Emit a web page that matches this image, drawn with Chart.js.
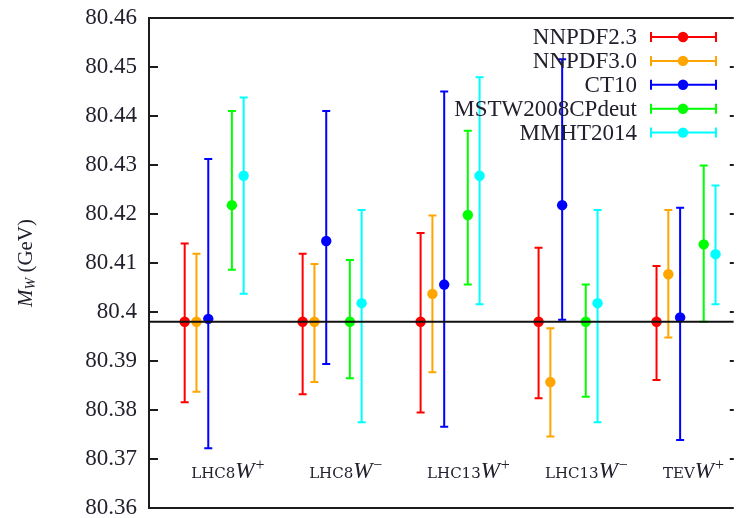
<!DOCTYPE html>
<html>
<head>
<meta charset="utf-8">
<script src="https://cdn.jsdelivr.net/npm/chart.js@4"></script>
<style>
  body { margin: 0; background: #fff; }
  #wrap { width: 739px; height: 518px; }
</style>
</head>
<body>
<div id="wrap"><canvas id="mwChart"></canvas></div>
<script>
// processes, one group of points per process
const processes = ["LHC8", "LHC8", "LHC13", "LHC13", "TEV"];
const charges = ["+", "\u2212", "+", "\u2212", "+"];
const groupX = [0, 1, 2, 3, 4];

// fitted W mass and its uncertainty band per PDF set
const nnpdf23Mw = [80.398, 80.398, 80.398, 80.398, 80.398];
const nnpdf23Lo = [80.3816, 80.3832, 80.3795, 80.3824, 80.3861];
const nnpdf23Hi = [80.4140, 80.4119, 80.4161, 80.4131, 80.4094];

const nnpdf30Mw = [80.398, 80.398, 80.4037, 80.3857, 80.4077];
const nnpdf30Lo = [80.3837, 80.3857, 80.3877, 80.3746, 80.3948];
const nnpdf30Hi = [80.4119, 80.4098, 80.4197, 80.3967, 80.4208];

const ct10Mw = [80.3986, 80.4145, 80.4056, 80.4218, 80.3989];
const ct10Lo = [80.3722, 80.3894, 80.3766, 80.3984, 80.3739];
const ct10Hi = [80.4312, 80.4410, 80.4450, 80.4516, 80.4213];

const mstwMw = [80.4218, 80.398, 80.4198, 80.398, 80.4138];
const mstwLo = [80.4086, 80.3865, 80.4056, 80.3827, 80.398];
const mstwHi = [80.4410, 80.4106, 80.4370, 80.4056, 80.4299];

const mmhtMw = [80.4278, 80.4018, 80.4278, 80.4018, 80.4118];
const mmhtLo = [80.4037, 80.3775, 80.4016, 80.3775, 80.4016];
const mmhtHi = [80.4438, 80.4208, 80.4479, 80.4208, 80.4258];

const mwInput = 80.398;
const yTicks = [80.36, 80.37, 80.38, 80.39, 80.40, 80.41, 80.42, 80.43, 80.44, 80.45, 80.46];

const X_MIN = -0.3025, X_MAX = 4.655;
const LABEL_Y = 80.3661;
const SERIF = "'Liberation Serif', 'DejaVu Serif', serif";
const TEXT = "#23202e";

function series(label, color, shift, mw, lo, hi) {
    return {
        label: label,
        data: groupX.map((g, i) => ({ x: g + shift, y: mw[i], lo: lo[i], hi: hi[i] })),
        backgroundColor: color,
        borderColor: color,
        pointRadius: 5.2,
        pointHoverRadius: 5.2,
        pointBorderWidth: 0,
        showLine: false,
        order: 1
    };
}

const pdfSets = [
    series("NNPDF2.3", "#ff0000", 0.0, nnpdf23Mw, nnpdf23Lo, nnpdf23Hi),
    series("NNPDF3.0", "#ffa500", 0.1, nnpdf30Mw, nnpdf30Lo, nnpdf30Hi),
    series("CT10", "#0000ff", 0.2, ct10Mw, ct10Lo, ct10Hi),
    series("MSTW2008CPdeut", "#00ff00", 0.4, mstwMw, mstwLo, mstwHi),
    series("MMHT2014", "#00ffff", 0.5, mmhtMw, mmhtLo, mmhtHi)
];

const refLine = {
    type: "line",
    label: "input",
    data: [{ x: X_MIN, y: mwInput }, { x: X_MAX, y: mwInput }],
    borderColor: "#111",
    borderWidth: 2,
    pointRadius: 0,
    order: 0
};

// vertical error bars with caps, under the markers
const errorBars = {
    id: "errorBars",
    beforeDatasetsDraw(chart) {
        const ctx = chart.ctx, xs = chart.scales.x, ys = chart.scales.y;
        ctx.save();
        ctx.lineWidth = 2;
        pdfSets.forEach(ds => {
            ctx.strokeStyle = ds.borderColor;
            ds.data.forEach(p => {
                const px = xs.getPixelForValue(p.x);
                const top = ys.getPixelForValue(p.hi), bot = ys.getPixelForValue(p.lo);
                ctx.beginPath();
                ctx.moveTo(px, top); ctx.lineTo(px, bot);
                ctx.moveTo(px - 4, top); ctx.lineTo(px + 4, top);
                ctx.moveTo(px - 4, bot); ctx.lineTo(px + 4, bot);
                ctx.stroke();
            });
        });
        ctx.restore();
    }
};

// frame, inward ticks, process labels, key and axis title
const decorations = {
    id: "decorations",
    afterDraw(chart) {
        const ctx = chart.ctx, a = chart.chartArea, xs = chart.scales.x, ys = chart.scales.y;
        ctx.save();
        ctx.strokeStyle = "#1c1c1c";
        ctx.lineWidth = 2;
        ctx.beginPath();
        ctx.moveTo(a.right, a.top); ctx.lineTo(a.left, a.top);
        ctx.lineTo(a.left, a.bottom); ctx.lineTo(a.right, a.bottom);
        yTicks.forEach(v => {
            const py = Math.round(ys.getPixelForValue(v));
            ctx.moveTo(a.left, py); ctx.lineTo(a.left + 9, py);
            ctx.moveTo(a.right - 4, py); ctx.lineTo(a.right, py);
        });
        ctx.stroke();

        // process labels like LHC8 W+
        ctx.fillStyle = TEXT;
        ctx.textBaseline = "alphabetic";
        ctx.textAlign = "left";
        const by = ys.getPixelForValue(LABEL_Y);
        processes.forEach((name, i) => {
            let x = xs.getPixelForValue(groupX[i] + 0.055);
            ctx.font = "15px 'DejaVu Serif', serif";
            ctx.fillText(name, x, by);
            x += ctx.measureText(name).width;
            ctx.font = "italic 23px " + SERIF;
            ctx.fillText("W", x, by);
            x += ctx.measureText("W").width + 1;
            ctx.font = "16px " + SERIF;
            ctx.fillText(charges[i], x, by - 8);
        });

        // key
        pdfSets.forEach((ds, i) => {
            const ry = 37 + i * 23.9;
            ctx.font = "23px " + SERIF;
            ctx.textAlign = "right";
            ctx.textBaseline = "middle";
            ctx.fillStyle = TEXT;
            ctx.fillText(ds.label, 637, ry + 1);
            ctx.strokeStyle = ds.borderColor;
            ctx.beginPath();
            ctx.moveTo(651, ry); ctx.lineTo(716, ry);
            ctx.moveTo(651, ry - 5); ctx.lineTo(651, ry + 5);
            ctx.moveTo(716, ry - 5); ctx.lineTo(716, ry + 5);
            ctx.stroke();
            ctx.fillStyle = ds.borderColor;
            ctx.beginPath();
            ctx.arc(683, ry, 5.2, 0, Math.PI * 2);
            ctx.fill();
        });

        // y title: M_W (GeV)
        ctx.translate(26, (a.top + a.bottom) / 2);
        ctx.rotate(-Math.PI / 2);
        ctx.fillStyle = TEXT;
        ctx.textBaseline = "middle";
        ctx.textAlign = "left";
        const parts = [
            ["italic 21px " + SERIF, "M", 0],
            ["italic 14px " + SERIF, "W", 5],
            ["21px " + SERIF, " (GeV)", 0]
        ];
        let w = 0;
        parts.forEach(p => { ctx.font = p[0]; w += ctx.measureText(p[1]).width; });
        let tx = -w / 2;
        parts.forEach(p => {
            ctx.font = p[0];
            ctx.fillText(p[1], tx, p[2]);
            tx += ctx.measureText(p[1]).width;
        });
        ctx.restore();
    }
};

new Chart(document.getElementById("mwChart").getContext("2d"), {
    type: "scatter",
    data: { datasets: [refLine].concat(pdfSets) },
    options: {
        responsive: true,
        maintainAspectRatio: false,
        animation: false,
        devicePixelRatio: 1,
        layout: { padding: { top: 18, bottom: 10, left: 0, right: 0 } },
        plugins: { legend: { display: false }, tooltip: { enabled: false } },
        scales: {
            x: { type: "linear", min: X_MIN, max: X_MAX, display: false },
            y: {
                type: "linear",
                min: 80.36,
                max: 80.46,
                afterBuildTicks(scale) { scale.ticks = yTicks.map(v => ({ value: v })); },
                afterFit(scale) { scale.width = 149; scale.paddingTop = 0; scale.paddingBottom = 0; },
                grid: { display: false, drawTicks: false },
                border: { display: false },
                ticks: {
                    padding: 12,
                    color: TEXT,
                    font: { family: SERIF, size: 23 },
                    callback: v => String(+v.toFixed(2))
                }
            }
        }
    },
    plugins: [errorBars, decorations]
});
</script>
</body>
</html>
